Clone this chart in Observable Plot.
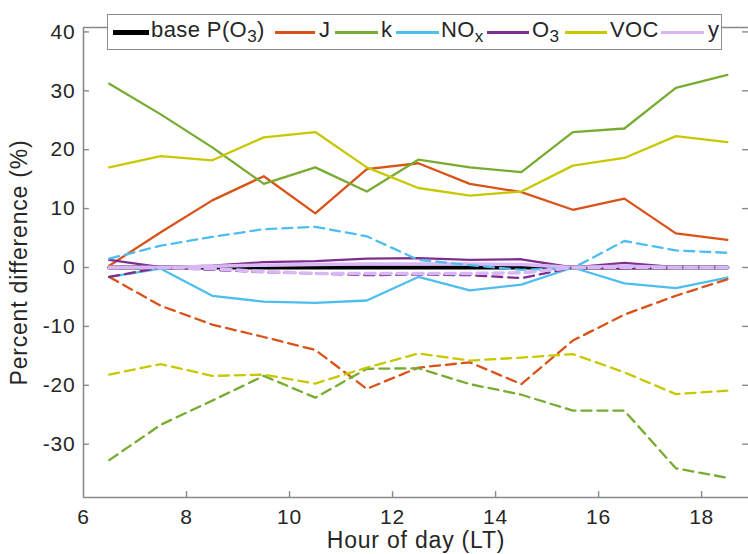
<!DOCTYPE html>
<html>
<head>
<meta charset="utf-8">
<script src="https://cdn.jsdelivr.net/npm/d3@7"></script>
<script src="https://cdn.jsdelivr.net/npm/@observablehq/plot@0.6"></script>
<style>
  body { margin: 0; background: #fff; }
  #wrap { position: relative; width: 748px; height: 554px; font-family: "Liberation Sans", Arial, Helvetica, sans-serif; }
  #legend { position: absolute; left: 107px; top: 14px; width: 613px; height: 34px; border: 1.5px solid #8c8c8c; background: #fff; }
  .sw { position: absolute; top: 16px; }
  .lab { position: absolute; top: 4px; font-size: 22px; line-height: 22px; color: #262626; white-space: nowrap; letter-spacing: 0.4px; }
  .lab sub { font-size: 0.78em; position: relative; top: 0.3em; vertical-align: baseline; }
</style>
</head>
<body>
<div id="wrap"><div id="chart"></div><div id="legend"></div></div>
<script>
// ---- data ----
const hours = [6.5, 7.5, 8.5, 9.5, 10.5, 11.5, 12.5, 13.5, 14.5, 15.5, 16.5, 17.5, 18.5];
const baseP = [0, 0, 0, 0, 0, 0, 0, 0, 0, 0, 0, 0, 0];
// solid-line series
const jSolid   = [0.3, 6.0, 11.4, 15.5, 9.2, 16.7, 17.7, 14.2, 12.8, 9.8, 11.7, 5.8, 4.7];
const kSolid   = [31.2, 26.0, 20.4, 14.2, 17.0, 12.9, 18.3, 17.0, 16.2, 23.0, 23.6, 30.5, 32.7];
const noxSolid = [-1.6, -0.2, -4.8, -5.8, -6.0, -5.6, -1.6, -3.9, -2.9, 0.0, -2.7, -3.5, -1.7];
const o3Solid  = [1.3, 0.05, 0.3, 0.9, 1.1, 1.5, 1.6, 1.3, 1.4, 0.0, 0.8, 0.05, 0.0];
const vocSolid = [17.0, 18.9, 18.2, 22.1, 23.0, 17.0, 13.5, 12.2, 12.9, 17.3, 18.6, 22.3, 21.3];
const ySolid   = [0, 0, 0.2, 0.4, 0.5, 0.6, 0.6, 0.6, 0.5, 0, 0.2, 0, 0];
// dashed-line series
const jDashed   = [-1.6, -6.5, -9.7, -11.8, -14.0, -20.6, -17.0, -16.1, -19.8, -12.4, -8.0, -4.8, -2.0];
const kDashed   = [-32.7, -26.7, -22.6, -18.4, -22.1, -17.2, -17.1, -19.8, -21.6, -24.3, -24.3, -34.1, -35.7];
const noxDashed = [1.5, 3.7, 5.2, 6.5, 6.9, 5.3, 1.3, 0.4, -0.4, -0.1, 4.5, 2.9, 2.5];
const o3Dashed  = [-1.6, 0.0, -0.4, -0.8, -1.0, -1.3, -1.2, -1.3, -1.8, 0.0, -0.2, 0.0, 0.0];
const vocDashed = [-18.2, -16.4, -18.4, -18.2, -19.7, -17.0, -14.6, -15.8, -15.3, -14.7, -17.8, -21.5, -20.9];
const yDashed   = [0, 0, -0.2, -0.7, -1.0, -1.0, -1.0, -1.0, -0.9, 0, 0, 0, 0];

const seriesNames  = ["base P(O3)", "J", "k", "NOx", "O3", "VOC", "y"];
const legendLabels = ["base P(O<sub>3</sub>)", "J", "k", "NO<sub>x</sub>", "O<sub>3</sub>", "VOC", "y"];
const seriesColors = ["#000000", "#D95319", "#77AC30", "#4DBEEE", "#7E2F8E", "#C8C800", "#D9B6F5"];
const solidValues  = [baseP, jSolid, kSolid, noxSolid, o3Solid, vocSolid, ySolid];
const dashedValues = [null, jDashed, kDashed, noxDashed, o3Dashed, vocDashed, yDashed];

const xTicks = [6, 8, 10, 12, 14, 16, 18];
const yTicks = [-30, -20, -10, 0, 10, 20, 30, 40];
const xLabel = "Hour of day (LT)";
const yLabel = "Percent difference (%)";

// ---- layout ----
const xMin = 6, xMax = 18.91, yMin = -39.05, yMax = 40.75;
const axisColor = "#8a8a8a";
const tickLenX = 0.115, tickLenY = 1.0;

const rows = vals => hours.map((h, i) => ({hour: h, value: vals[i]}));

const marks = [];
marks.push(Plot.line(rows(baseP), {x: "hour", y: "value", stroke: seriesColors[0], strokeWidth: 4}));
for (let s = 1; s < seriesNames.length; s++) {
  marks.push(Plot.line(rows(solidValues[s]), {x: "hour", y: "value", stroke: seriesColors[s],
    strokeWidth: s === 6 ? 3.5 : 2.3, strokeLinejoin: "round"}));
}
for (let s = 1; s < seriesNames.length; s++) {
  marks.push(Plot.line(rows(dashedValues[s]), {x: "hour", y: "value", stroke: seriesColors[s],
    strokeWidth: s === 6 ? 3.5 : 2.3, strokeDasharray: "10,6"}));
}
marks.push(
  Plot.ruleX([xMin], {y1: yMin, y2: yMax, stroke: axisColor, strokeWidth: 1.6}),
  Plot.ruleY([yMin, yMax], {x1: xMin, x2: xMax, stroke: axisColor, strokeWidth: 1.6}),
  Plot.ruleX(xTicks.slice(1), {x: d => d, y1: yMin, y2: yMin + tickLenY, stroke: axisColor, strokeWidth: 1.4}),
  Plot.ruleY(yTicks, {y: d => d, x1: xMin, x2: xMin + tickLenX, stroke: axisColor, strokeWidth: 1.4}),
  Plot.ruleY(yTicks, {y: d => d, x1: xMax - tickLenX, x2: xMax, stroke: axisColor, strokeWidth: 1.4}),
  Plot.axisX({ticks: xTicks, tickSize: 0, tickPadding: 12, tickFormat: d => String(d), label: null, fontSize: 21}),
  Plot.axisY({ticks: yTicks, tickSize: 0, tickPadding: 8, tickFormat: d => String(d), label: null, fontSize: 21}),
  Plot.text([xLabel], {frameAnchor: "bottom", lineAnchor: "middle", textAnchor: "middle", dy: 43, fontSize: 23, text: d => d}),
  Plot.text([yLabel], {frameAnchor: "left", lineAnchor: "middle", textAnchor: "middle", dx: -64, rotate: -90, fontSize: 23, text: d => d})
);

const chart = Plot.plot({
  width: 748, height: 554,
  marginLeft: 83, marginRight: 0, marginTop: 27, marginBottom: 57,
  x: {domain: [xMin, xMax], axis: null},
  y: {domain: [yMin, yMax], axis: null},
  style: {fontFamily: '"Liberation Sans", Arial, Helvetica, sans-serif', color: "#262626", letterSpacing: "0.8px", background: "#fff"},
  marks
});
document.getElementById("chart").appendChild(chart);

// ---- legend (HTML overlay) ----
const legend = document.getElementById("legend");
const lineSpans = [[5, 41], [167, 207], [227, 270], [288, 331], [379, 421], [457, 499], [553, 596]];
const textLeft  = [43, 211, 273, 333, 424, 502, 600];
seriesNames.forEach((name, i) => {
  const sw = document.createElement("div");
  sw.className = "sw";
  const thick = i === 0 ? 5 : 3;
  sw.style.left = lineSpans[i][0] + "px";
  sw.style.width = (lineSpans[i][1] - lineSpans[i][0]) + "px";
  sw.style.height = thick + "px";
  sw.style.top = (17 - thick / 2) + "px";
  sw.style.background = seriesColors[i];
  legend.appendChild(sw);
  const lab = document.createElement("div");
  lab.className = "lab";
  lab.style.left = textLeft[i] + "px";
  lab.innerHTML = legendLabels[i];
  legend.appendChild(lab);
});
</script>
</body>
</html>
